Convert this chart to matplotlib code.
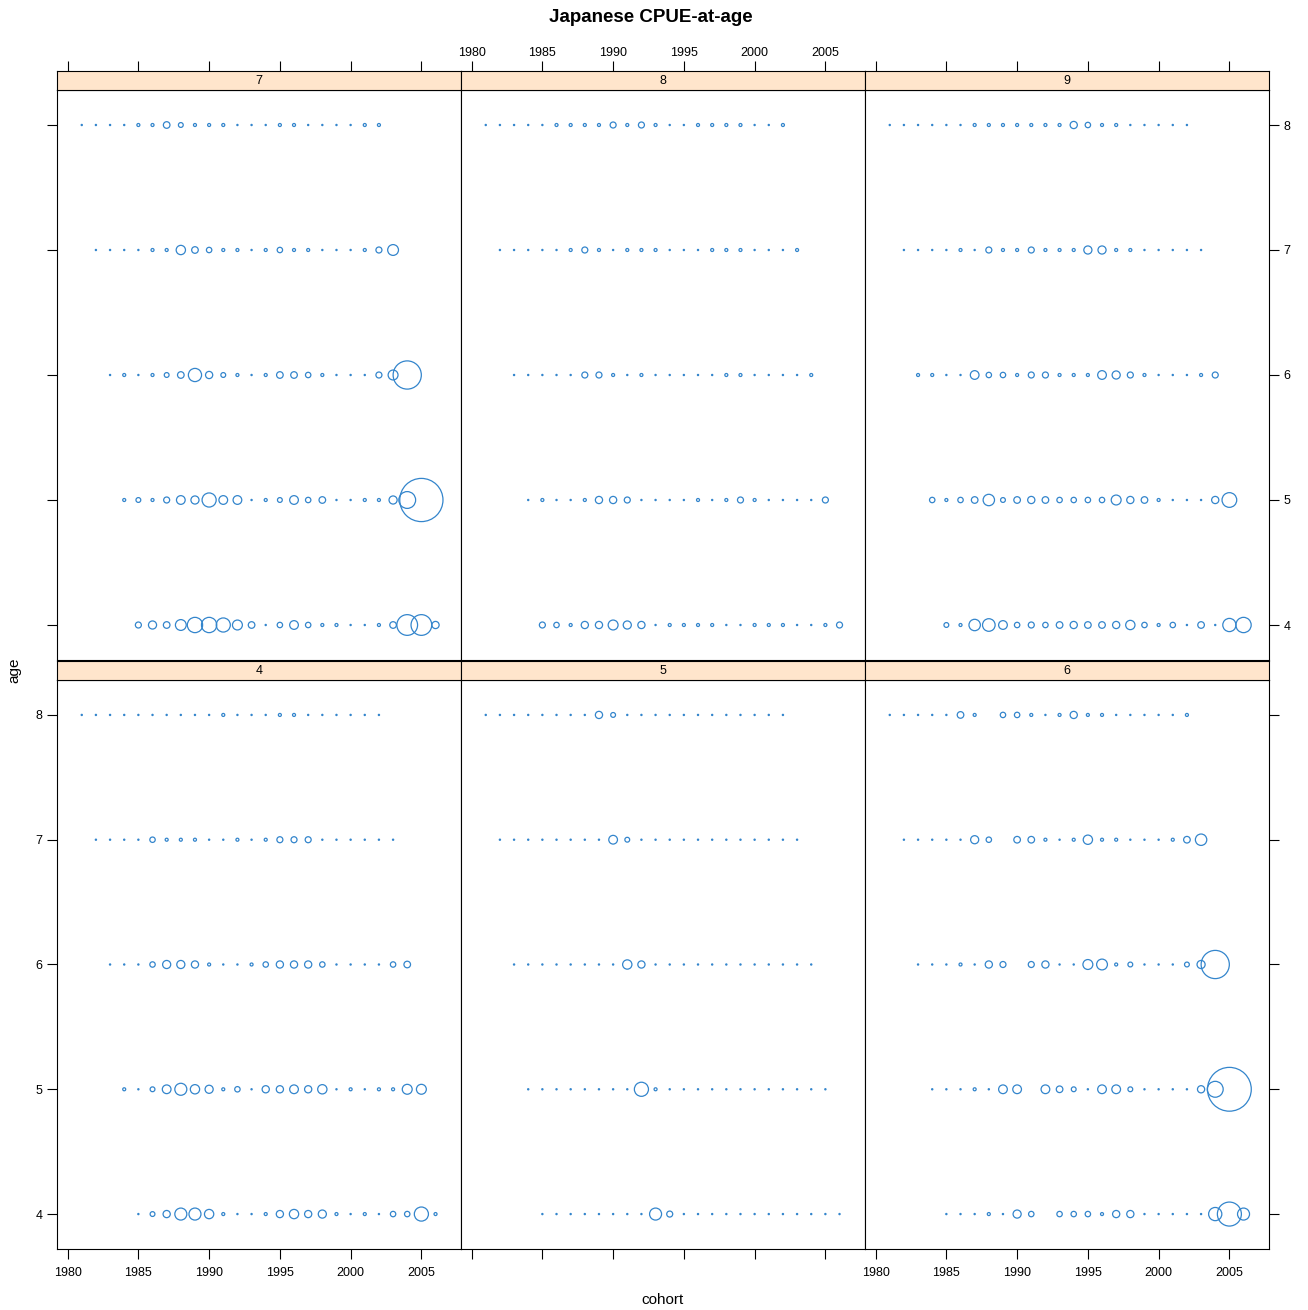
import numpy as np
import matplotlib
matplotlib.use("Agg")
import matplotlib.pyplot as plt

plt.rcParams['font.family'] = ['Liberation Sans', 'DejaVu Sans']

nan = np.nan
years = np.arange(1989, 2011)
ages = [4, 5, 6, 7, 8]
xticks = [1980, 1985, 1990, 1995, 2000, 2005]

# CPUE-at-age index, one row per age (4..8), one value per year 1989..2010
p4 = [
    [0.4, 1.6, 2.4, 4.0, 4.0, 3.1, 1.0, 0.4, 0.4, 1.0, 2.4, 3.1, 2.4, 2.7, 1.0, 0.4, 1.0, 0.4, 1.8, 1.8, 4.7, 1.0],
    [1.0, 0.4, 1.6, 2.9, 4.0, 3.1, 2.7, 1.0, 1.8, 0.4, 2.4, 2.4, 2.9, 2.4, 3.1, 0.4, 1.0, 0.4, 1.0, 1.0, 3.3, 3.3],
    [0.4, 0.4, 0.4, 1.8, 2.7, 2.7, 2.4, 1.0, 0.4, 0.4, 1.0, 1.8, 2.4, 2.4, 2.4, 1.8, 0.4, 0.4, 0.4, 0.4, 1.8, 2.2],
    [0.4, 0.4, 0.4, 0.4, 1.8, 1.0, 1.0, 1.0, 0.4, 0.4, 1.0, 0.4, 1.0, 2.0, 2.0, 2.0, 0.4, 0.4, 0.4, 0.4, 0.4, 0.4],
    [0.4, 0.4, 0.4, 0.4, 0.4, 0.4, 0.4, 0.4, 0.4, 0.4, 1.0, 0.4, 0.4, 0.4, 1.0, 1.0, 0.4, 0.4, 0.4, 0.4, 0.4, 0.4],
]
p5 = [
    [0.4, 0.4, 0.4, 0.4, 0.4, 0.4, 0.4, 0.4, 4.0, 2.0, 0.4, 0.4, 0.4, 0.4, 0.4, 0.4, 0.4, 0.4, 0.4, 0.4, 0.4, 0.4],
    [0.4, 0.4, 0.4, 0.4, 0.4, 0.4, 0.4, 0.4, 4.7, 1.0, 0.4, 0.4, 0.4, 0.4, 0.4, 0.4, 0.4, 0.4, 0.4, 0.4, 0.4, 0.4],
    [0.4, 0.4, 0.4, 0.4, 0.4, 0.4, 0.4, 0.4, 3.1, 2.4, 0.4, 0.4, 0.4, 0.4, 0.4, 0.4, 0.4, 0.4, 0.4, 0.4, 0.4, 0.4],
    [0.4, 0.4, 0.4, 0.4, 0.4, 0.4, 0.4, 0.4, 2.9, 1.6, 0.4, 0.4, 0.4, 0.4, 0.4, 0.4, 0.4, 0.4, 0.4, 0.4, 0.4, 0.4],
    [0.4, 0.4, 0.4, 0.4, 0.4, 0.4, 0.4, 0.4, 2.4, 1.6, 0.4, 0.4, 0.4, 0.4, 0.4, 0.4, 0.4, 0.4, 0.4, 0.4, 0.4, 0.4],
]
p6 = [
    [0.4, 0.4, 0.4, 1.0, 0.4, 2.7, 1.8, nan, 1.8, 1.8, 1.8, 1.0, 2.4, 2.4, 0.4, 0.4, 0.4, 0.4, 0.4, 4.4, 8.0, 4.0],
    [0.4, 0.4, 0.4, 1.0, 0.4, 2.9, 2.9, nan, 2.9, 2.2, 1.6, 0.4, 2.9, 2.9, 1.6, 0.4, 0.4, 0.4, 0.4, 2.4, 5.3, 14.6],
    [0.4, 0.4, 0.4, 1.0, 0.4, 2.4, 2.0, nan, 2.0, 2.4, 0.4, 0.4, 3.3, 3.6, 1.0, 1.6, 0.4, 0.4, 0.4, 1.6, 2.7, 9.4],
    [0.4, 0.4, 0.4, 0.4, 0.4, 2.7, 1.8, nan, 2.2, 2.2, 1.0, 0.4, 1.0, 3.1, 1.0, 1.0, 0.4, 0.4, 0.4, 1.0, 2.2, 3.8],
    [0.4, 0.4, 0.4, 0.4, 0.4, 2.2, 1.0, nan, 1.8, 1.8, 1.0, 0.4, 1.0, 2.4, 1.0, 1.0, 0.4, 0.4, 0.4, 0.4, 0.4, 1.0],
]
p7 = [
    [2.0, 2.7, 2.2, 3.6, 5.1, 5.1, 4.7, 3.3, 2.2, 0.4, 1.8, 2.9, 1.8, 1.0, 1.0, 0.4, 0.4, 1.0, 2.2, 6.9, 6.9, 2.4],
    [1.0, 1.6, 1.0, 2.0, 2.9, 2.7, 4.7, 2.9, 2.9, 0.4, 1.0, 1.6, 2.9, 1.8, 2.2, 0.4, 0.4, 1.0, 1.0, 2.7, 5.6, 14.4],
    [0.4, 1.0, 0.4, 1.0, 1.6, 2.2, 4.4, 2.4, 1.6, 1.0, 0.4, 1.0, 2.2, 2.2, 1.8, 1.0, 0.4, 0.4, 0.4, 2.0, 3.3, 9.4],
    [0.4, 0.4, 0.4, 0.4, 1.0, 1.0, 3.1, 2.2, 1.8, 1.0, 1.0, 0.4, 1.0, 1.8, 1.0, 1.0, 0.4, 0.4, 0.4, 1.0, 2.0, 3.6],
    [0.4, 0.4, 0.4, 0.4, 1.0, 1.0, 2.2, 1.6, 1.0, 1.0, 1.0, 0.4, 0.4, 0.4, 1.0, 1.0, 0.4, 0.4, 0.4, 0.4, 1.0, 1.0],
]
p8 = [
    [2.0, 1.8, 1.0, 2.4, 2.4, 3.3, 2.7, 2.4, 0.4, 1.0, 1.0, 1.0, 1.0, 0.4, 0.4, 1.0, 1.0, 1.0, 0.4, 0.4, 1.0, 2.0],
    [0.4, 1.0, 0.4, 0.4, 1.0, 2.4, 2.4, 2.0, 0.4, 0.4, 0.4, 0.4, 1.0, 0.4, 1.0, 2.0, 1.0, 0.4, 0.4, 0.4, 0.4, 2.0],
    [0.4, 0.4, 0.4, 0.4, 0.4, 2.0, 2.0, 1.0, 0.4, 1.0, 0.4, 0.4, 0.4, 0.4, 0.4, 1.0, 1.0, 0.4, 0.4, 0.4, 0.4, 1.0],
    [0.4, 0.4, 0.4, 0.4, 0.4, 1.0, 2.0, 1.0, 0.4, 1.0, 1.0, 1.0, 0.4, 0.4, 0.4, 1.0, 1.0, 1.0, 0.4, 0.4, 0.4, 1.0],
    [0.4, 0.4, 0.4, 0.4, 0.4, 1.0, 1.0, 1.0, 1.0, 2.0, 1.0, 2.0, 1.0, 0.4, 0.4, 1.0, 1.0, 1.0, 1.0, 0.4, 0.4, 1.0],
]
p9 = [
    [1.6, 1.0, 3.8, 4.2, 2.9, 1.8, 2.0, 1.8, 2.2, 2.4, 2.2, 2.2, 2.4, 3.1, 1.8, 1.0, 1.8, 0.4, 2.2, 0.4, 4.4, 5.1],
    [1.8, 1.0, 1.8, 2.2, 3.8, 1.6, 2.2, 2.4, 2.2, 1.8, 1.8, 1.8, 1.8, 3.3, 2.4, 2.2, 1.0, 0.4, 0.4, 0.4, 2.4, 4.9],
    [1.0, 1.0, 0.4, 0.4, 2.9, 1.8, 1.8, 1.0, 2.0, 2.0, 1.0, 1.0, 1.0, 2.9, 2.7, 2.0, 1.0, 0.4, 0.4, 0.4, 1.0, 2.0],
    [0.4, 0.4, 0.4, 0.4, 1.0, 0.4, 2.0, 1.0, 1.0, 2.0, 1.0, 1.0, 1.0, 2.7, 2.7, 1.0, 1.0, 0.4, 0.4, 0.4, 0.4, 0.4],
    [0.4, 0.4, 0.4, 0.4, 0.4, 0.4, 1.0, 1.0, 1.0, 1.0, 1.0, 1.0, 1.0, 2.4, 1.8, 1.0, 1.0, 0.4, 0.4, 0.4, 0.4, 0.4],
]
panels = [("4", p4), ("5", p5), ("6", p6), ("7", p7), ("8", p8), ("9", p9)]

W, H = 1308, 1310
col = '#3385cc'
fig = plt.figure(figsize=(W / 100, H / 100), dpi=100)


def rect(x0, y0, x1, y1):
    return [x0 / W, 1 - y1 / H, (x1 - x0) / W, (y1 - y0) / H]


xs = [57, 461, 865, 1269]
rows = {0: (661, 680, 1249), 1: (71, 90, 660)}  # strip top, plot top, plot bottom

for i, (name, data) in enumerate(panels):
    r, c = i // 3, i % 3
    st, pt, pb = rows[r]
    ax = fig.add_axes(rect(xs[c], pt, xs[c + 1], pb))
    sx = fig.add_axes(rect(xs[c], st, xs[c + 1], pt), sharex=ax)

    for age, vals in zip(ages, data):
        v = np.array(vals)
        ax.scatter(years - age, np.full(len(v), age), s=(v * 3 * 0.72) ** 2,
                   facecolors='none', edgecolors=col, linewidths=0.9)

    ax.set_xlim(1979.25, 2007.8)
    ax.set_ylim(3.72, 8.28)
    ax.set_xticks(xticks)
    ax.set_yticks(ages)

    # panel ticks: bottom row gets bottom x ticks, outer columns get y ticks
    ax.tick_params(direction='out', length=7, width=0.8, labelsize=9,
                   bottom=(r == 0), labelbottom=(r == 0 and c != 1),
                   top=False, labeltop=False,
                   left=(c == 0), labelleft=(c == 0 and r == 0),
                   right=(c == 2), labelright=(c == 2 and r == 1))
    ax.tick_params(axis='x', pad=6)

    sx.set_facecolor('#ffe5cc')
    sx.set_yticks([])
    sx.tick_params(direction='out', length=7, width=0.8, labelsize=9, pad=2,
                   bottom=False, labelbottom=False,
                   top=(r == 1), labeltop=(r == 1 and c == 1))
    sx.text(0.5, 0.5, name, transform=sx.transAxes, ha='center', va='center', fontsize=9)
    for a in (ax, sx):
        for sp in a.spines.values():
            sp.set_linewidth(0.8)

fig.text(651 / W, 1 - 17 / H, "Japanese CPUE-at-age", ha='center', va='center',
         fontsize=13.5, fontweight='bold')
fig.text(663 / W, 1 - 1300 / H, "cohort", ha='center', va='center', fontsize=11)
fig.text(14 / W, 1 - 670 / H, "age", ha='center', va='center', fontsize=11, rotation=90)

fig.savefig("out.png", dpi=100)
